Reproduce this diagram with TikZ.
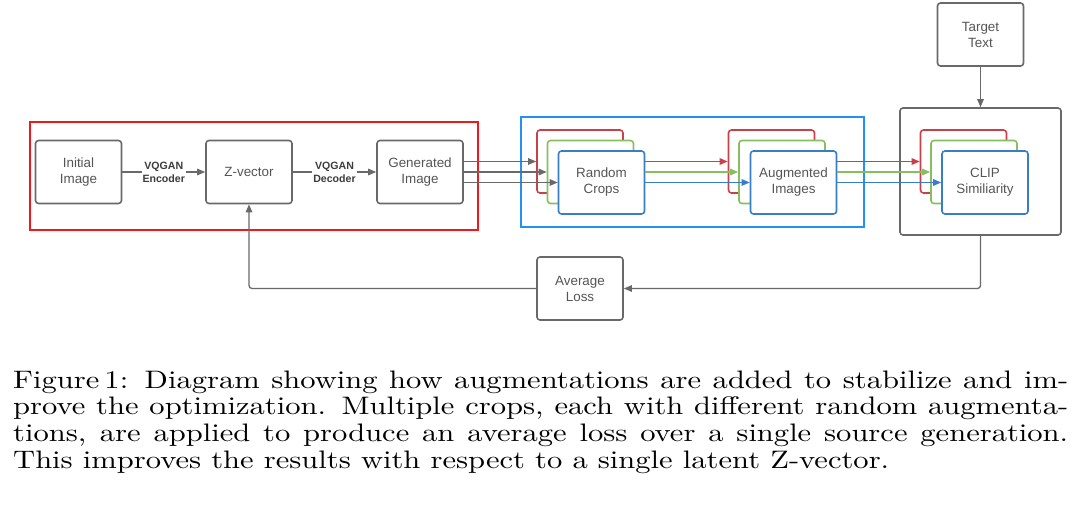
\documentclass[tikz,border=0pt]{standalone}
\usepackage{fontspec}
\newfontfamily\lsans{Liberation Sans}
\usetikzlibrary{arrows.meta}
\definecolor{boxgray}{RGB}{105,105,105}
\definecolor{txtgray}{RGB}{85,85,85}
\definecolor{labgray}{RGB}{60,60,60}
\definecolor{cred}{RGB}{200,65,72}
\definecolor{cgreen}{RGB}{135,190,95}
\definecolor{cblue}{RGB}{55,125,200}
\definecolor{framered}{RGB}{240,25,25}
\definecolor{frameblue}{RGB}{35,145,240}
\newlength\capnat
\begin{document}
\settowidth\capnat{\normalfont\normalsize This improves the results with respect to a single latent Z-vector.}%
\pgfmathsetmacro\capxs{876/\capnat}%
\pgfmathsetmacro\capw{1055/\capxs}%
\begin{tikzpicture}[x=1pt,y=-1pt,
  box/.style={draw=boxgray, line width=1.6pt, rounded corners=3pt, fill=white,
    minimum width=86pt, minimum height=63pt, inner sep=0pt, align=center,
    text=txtgray, font=\lsans\fontsize{13.4}{16}\selectfont},
  card/.style={box, draw=#1},
  frame/.style={draw=#1, line width=2.5pt, inner sep=0pt},
  arr/.style={draw=boxgray, line width=1.3pt, -{Triangle[length=8pt,width=6.5pt]}},
  lab/.style={fill=white, font=\lsans\bfseries\fontsize{10.6}{12.7}\selectfont,
    text=labgray, align=center, inner sep=1pt}]
\useasboundingbox (0,0) rectangle (1080,509);

% frames
\node[frame=framered, minimum width=448pt, minimum height=108pt] (redframe) at (254,176) {};
\node[frame=frameblue, minimum width=343pt, minimum height=110pt] (blueframe) at (692.5,172) {};
\node[box, minimum width=161pt, minimum height=127pt] (clipbox) at (980.5,171.5) {};

% main boxes
\node[box] (init) at (78.5,172) {Initial\\Image};
\node[box] (zvec) at (249,172) {Z-vector};
\node[box] (gen) at (420,172) {Generated\\Image};

\node[card=cred]   (rcR) at (580,161.5) {};
\node[card=cgreen] (rcG) at (590.5,172) {};
\node[card=cblue]  (rcB) at (601.5,182.5) {Random\\Crops};

\node[card=cred]   (augR) at (771.5,161.5) {};
\node[card=cgreen] (augG) at (782,172) {};
\node[card=cblue]  (augB) at (793.5,182.5) {Augmented\\Images};

\node[card=cred]   (clR) at (963.5,161.5) {};
\node[card=cgreen] (clG) at (974,172) {};
\node[card=cblue]  (clB) at (985,182.5) {CLIP\\Similiarity};

\node[box] (target) at (980.5,34.5) {Target\\Text};
\node[box] (avg) at (580,288.5) {Average\\Loss};

% connectors
\draw[arr] (init) -- node[lab]{VQGAN\\Encoder} (zvec);
\draw[arr] (zvec) -- node[lab]{VQGAN\\Decoder} (gen);

\draw[arr] (gen.east |- rcR.west) -- (rcR.west);
\draw[arr] (gen.east |- rcG.west) -- (rcG.west);
\draw[arr] (gen.east |- rcB.west) -- (rcB.west);

\draw[arr, draw=cred]   (rcB.east |- augR.west) -- (augR.west);
\draw[arr, draw=cgreen] (rcB.east |- augG.west) -- (augG.west);
\draw[arr, draw=cblue]  (rcB.east |- augB.west) -- (augB.west);

\draw[arr, draw=cred]   (augB.east |- clR.west) -- (clR.west);
\draw[arr, draw=cgreen] (augB.east |- clG.west) -- (clG.west);
\draw[arr, draw=cblue]  (augB.east |- clB.west) -- (clB.west);

\draw[arr] (target) -- (clipbox);
\draw[arr, rounded corners=3pt] (clipbox.south) |- (avg.east);
\draw[arr, rounded corners=3pt] (avg.west) -| (zvec.south);

% caption
\node[anchor=base west, inner sep=0pt] (cap) at (13,388) {\scalebox{\capxs}[2.53]{\vtop{\normalsize\baselineskip=10.55pt\hsize=\capw pt
\hbox to\hsize{Figure\,1: Diagram showing how augmentations are added to stabilize and im-}
\hbox to\hsize{prove the optimization. Multiple crops, each with different random augmenta-}
\hbox to\hsize{tions, are applied to produce an average loss over a single source generation.}
\hbox{This improves the results with respect to a single latent Z-vector.}}}};
\end{tikzpicture}
\end{document}
